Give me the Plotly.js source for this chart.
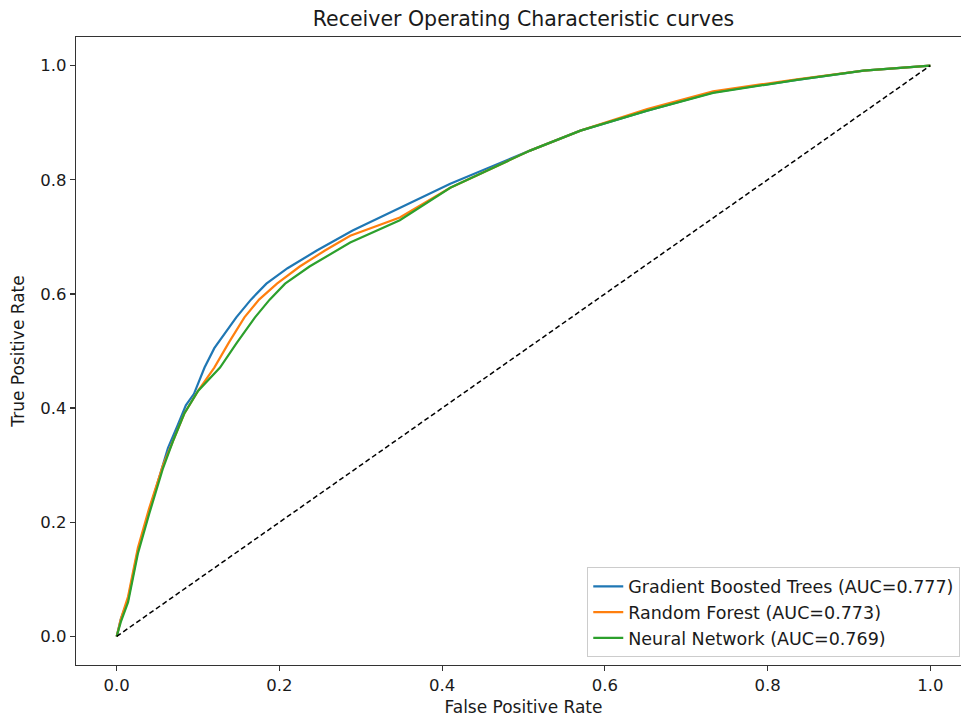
<!DOCTYPE html>
<html>
<head>
<meta charset="utf-8">
<script src="https://cdn.plot.ly/plotly-3.0.1.min.js"></script>
<style>
html,body{margin:0;padding:0;overflow:hidden;background:#fff;}
#chart{width:975px;height:722px;}
</style>
</head>
<body>
<div id="chart"></div>
<script>
var gbtFpr = [0,0.005,0.014,0.026,0.04,0.057,0.063,0.075,0.085,0.095,0.108,0.12,0.135,0.147,0.165,0.184,0.21,0.246,0.29,0.348,0.41,0.508,0.57,0.652,0.733,0.836,0.918,1];
var gbtTpr = [0,0.03,0.065,0.15,0.22,0.30,0.33,0.37,0.405,0.425,0.471,0.505,0.535,0.559,0.59,0.618,0.645,0.676,0.711,0.750,0.793,0.851,0.886,0.921,0.953,0.975,0.991,1];

var rfFpr = [0,0.005,0.014,0.026,0.04,0.057,0.07,0.083,0.1,0.12,0.138,0.157,0.175,0.197,0.225,0.256,0.287,0.348,0.41,0.508,0.57,0.652,0.733,0.836,0.918,1];
var rfTpr = [0,0.03,0.07,0.155,0.225,0.30,0.345,0.39,0.43,0.471,0.515,0.559,0.59,0.618,0.648,0.676,0.702,0.734,0.786,0.851,0.886,0.924,0.955,0.976,0.991,1];

var nnFpr = [0,0.005,0.014,0.026,0.04,0.057,0.07,0.083,0.1,0.127,0.148,0.170,0.188,0.207,0.237,0.270,0.287,0.348,0.41,0.508,0.57,0.652,0.733,0.836,0.918,1];
var nnTpr = [0,0.025,0.06,0.145,0.215,0.295,0.345,0.39,0.43,0.471,0.515,0.559,0.59,0.618,0.648,0.676,0.69,0.729,0.786,0.851,0.886,0.921,0.952,0.975,0.991,1];

var seriesNames = ["Gradient Boosted Trees (AUC=0.777)", "Random Forest (AUC=0.773)", "Neural Network (AUC=0.769)"];
var chanceX = [0, 1];
var chanceY = [0, 1];
var tickVals = [0, 0.2, 0.4, 0.6, 0.8, 1.0];
var tickText = ["0.0", "0.2", "0.4", "0.6", "0.8", "1.0"];

var font = "DejaVu Sans, sans-serif";
var txt = "#1a1a1a";
var traces = [
  {x: gbtFpr, y: gbtTpr, mode: "lines", name: seriesNames[0], line: {color: "#1f77b4", width: 2.2}},
  {x: rfFpr, y: rfTpr, mode: "lines", name: seriesNames[1], line: {color: "#ff7f0e", width: 2.2}},
  {x: nnFpr, y: nnTpr, mode: "lines", name: seriesNames[2], line: {color: "#2ca02c", width: 2.2}},
  {x: chanceX, y: chanceY, mode: "lines", showlegend: false, line: {color: "#000", width: 1.5, dash: "5px,3px"}}
];

var axisCommon = {
  showgrid: false, zeroline: false, showline: true, mirror: true,
  linecolor: "#333", linewidth: 1.2,
  ticks: "outside", ticklen: 5, tickwidth: 1.2, tickcolor: "#333",
  tickvals: tickVals, ticktext: tickText,
  tickfont: {family: font, size: 16.5, color: txt}
};

var layout = {
  width: 975, height: 722,
  margin: {l: 76, r: 4, t: 37, b: 57},
  paper_bgcolor: "#fff", plot_bgcolor: "#fff",
  font: {family: font, color: txt},
  title: {text: "Receiver Operating Characteristic curves", font: {family: font, size: 20.5, color: txt}, x: 0.5, xref: "paper", xanchor: "center", y: 0.974, yanchor: "middle"},
  xaxis: Object.assign({}, axisCommon, {range: [-0.05, 1.05], title: {text: "False Positive Rate", font: {family: font, size: 17, color: txt}, standoff: 7}}),
  yaxis: Object.assign({}, axisCommon, {range: [-0.05, 1.05], title: {text: "True Positive Rate", font: {family: font, size: 17, color: txt}, standoff: 11}}),
  showlegend: true,
  legend: {x: 0.988, xanchor: "right", y: 0.012, yanchor: "bottom", bgcolor: "rgba(255,255,255,0.9)", bordercolor: "#ccc", borderwidth: 1, font: {family: font, size: 17.5, color: txt}, tracegroupgap: 0}
};

Plotly.newPlot("chart", traces, layout, {displayModeBar: false, staticPlot: true});
</script>
</body>
</html>
